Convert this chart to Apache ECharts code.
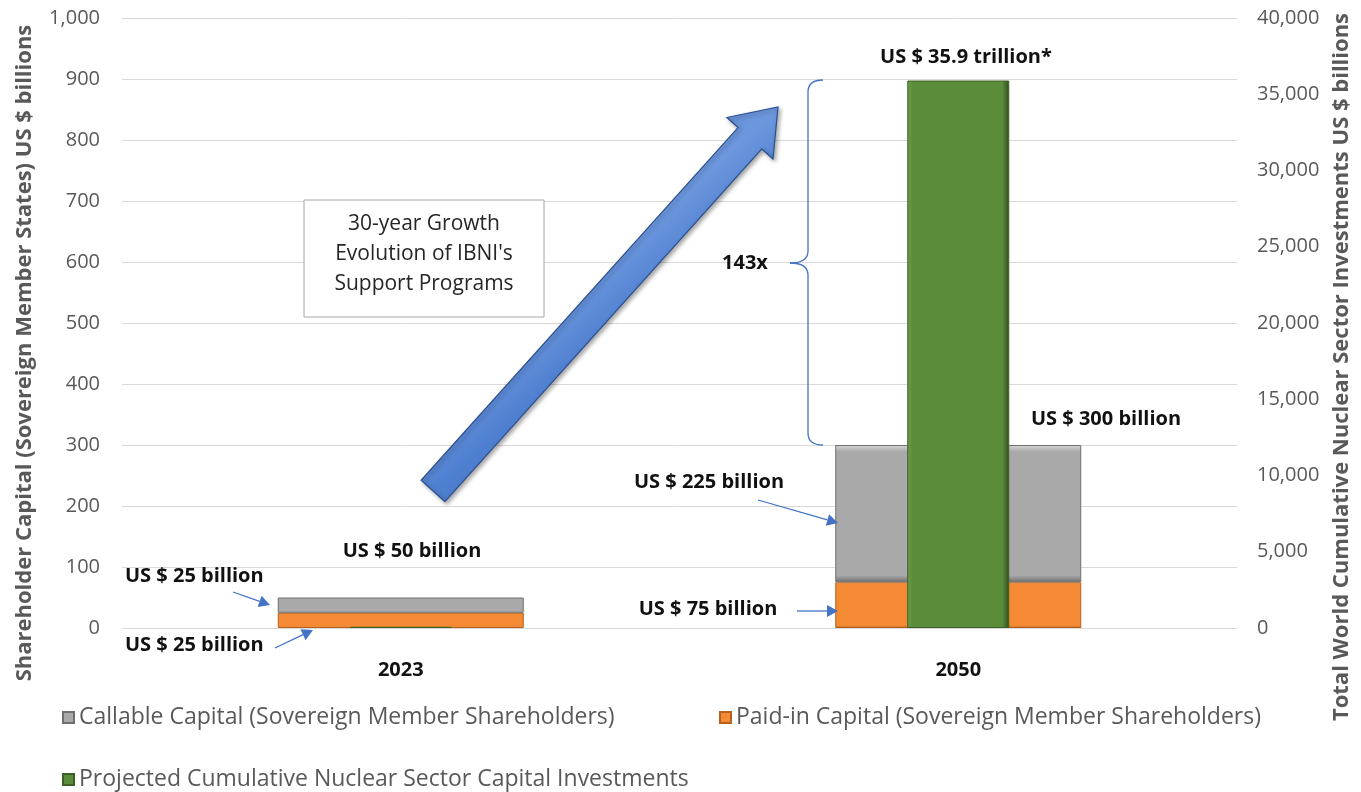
<!DOCTYPE html>
<html><head><meta charset="utf-8">
<script src="https://cdn.jsdelivr.net/npm/echarts@6/dist/echarts.min.js"></script>
<style>html,body{margin:0;padding:0;background:#fff}#c{width:1361px;height:792px}</style>
</head><body><div id="c"></div>
<script>
const categories = ['2023', '2050'];
const paidIn = [25, 75];
const callable = [25, 225];
const projected = [80, 35900];
const leftTicks = {min: 0, max: 1000, interval: 100};
const rightTicks = {min: 0, max: 40000, interval: 5000};
const names = ['Callable Capital (Sovereign Member Shareholders)', 'Paid-in Capital (Sovereign Member Shareholders)', 'Projected Cumulative Nuclear Sector Capital Investments'];
const leftTitle = 'Shareholder Capital (Sovereign Member States) US $ billions';
const rightTitle = 'Total World Cumulative Nuclear Sector Investments US $ billions';

const FONT = '"Open Sans", "Noto Sans", sans-serif';
const chart = echarts.init(document.getElementById('c'));

function hgrad(c1, light, dark) {
  return new echarts.graphic.LinearGradient(0, 0, 1, 0, [
    {offset: 0, color: light}, {offset: 0.05, color: c1}, {offset: 0.93, color: c1}, {offset: 1, color: dark}
  ]);
}
function vgrad(c1, light, dark) {
  return new echarts.graphic.LinearGradient(0, 0, 0, 1, [
    {offset: 0, color: light}, {offset: 0.05, color: c1}, {offset: 0.95, color: c1}, {offset: 1, color: dark}
  ]);
}

const blue = '#4472c4';
function arrow(x1, y1, x2, y2) {
  const dx = x2 - x1, dy = y2 - y1, L = Math.hypot(dx, dy);
  const ux = dx / L, uy = dy / L, px = -uy, py = ux;
  const hl = 11, hw = 6;
  const bx = x2 - ux * hl, by = y2 - uy * hl;
  return [
    {type: 'line', shape: {x1, y1, x2: bx, y2: by}, style: {stroke: blue, lineWidth: 1.3}, z: 100},
    {type: 'polygon', shape: {points: [[x2, y2], [bx + px * hw, by + py * hw], [bx - px * hw, by - py * hw]]}, style: {fill: blue}, z: 100}
  ];
}

function bigArrow() {
  const A = [433, 491], T = [778, 107];
  const dx = T[0] - A[0], dy = T[1] - A[1], L = Math.hypot(dx, dy);
  const d = [dx / L, dy / L], p = [-d[1], d[0]];
  const hl = 42, sw = 16, hw = 31;
  const B = [T[0] - d[0] * hl, T[1] - d[1] * hl];
  const pts = [
    [A[0] + p[0] * sw, A[1] + p[1] * sw],
    [B[0] + p[0] * sw, B[1] + p[1] * sw],
    [B[0] + p[0] * hw, B[1] + p[1] * hw],
    T,
    [B[0] - p[0] * hw, B[1] - p[1] * hw],
    [B[0] - p[0] * sw, B[1] - p[1] * sw],
    [A[0] - p[0] * sw, A[1] - p[1] * sw]
  ];
  return {type: 'polygon', shape: {points: pts}, z: 90,
    style: {
      fill: new echarts.graphic.LinearGradient(0, 0, 1, 1, [
        {offset: 0, color: '#3a62ad'}, {offset: 0.45, color: '#6d98de'}, {offset: 0.55, color: '#4f7fd0'}, {offset: 1, color: '#2f569c'}
      ]),
      stroke: '#2c4f8f', lineWidth: 1.2,
      shadowBlur: 4, shadowColor: 'rgba(0,0,0,0.35)', shadowOffsetX: 2, shadowOffsetY: 2
    }};
}

function txt(x, y, s, align) {
  return {type: 'text', x, y, z: 100, style: {text: s, fill: '#111', font: 'bold 20px ' + FONT, align: align || 'center', verticalAlign: 'middle'}};
}
function vtitle(x, y, s) {
  return {type: 'text', x, y, rotation: Math.PI / 2, z: 100,
    style: {text: s, fill: '#595959', font: 'bold 22px ' + FONT, align: 'center', verticalAlign: 'middle'}};
}
function seg(x1, y1, x2, y2) {
  return {type: 'line', z: 100, shape: {x1, y1, x2, y2}, style: {stroke: blue, lineWidth: 1.3}};
}
function curve(x1, y1, cx, cy, x2, y2) {
  return {type: 'bezierCurve', z: 100, shape: {x1, y1, x2, y2, cpx1: cx, cpy1: cy}, style: {stroke: blue, fill: null, lineWidth: 1.3}};
}
const bracket = [
  curve(823, 80, 808, 80, 808, 92),
  seg(808, 92, 808, 251),
  curve(808, 251, 808, 263, 790, 263),
  curve(790, 263, 808, 263, 808, 275),
  seg(808, 275, 808, 433),
  curve(808, 433, 808, 445, 823, 445)
];

const graphics = [
  bigArrow(),
  {type: 'rect', shape: {x: 304, y: 200, width: 240, height: 117}, style: {fill: '#fff', stroke: '#a6a6a6', lineWidth: 1}, z: 95},
  {type: 'text', x: 424, y: 254, z: 96, style: {text: '30-year Growth\nEvolution of IBNI\'s\nSupport Programs', fill: '#262626', font: '21px ' + FONT, align: 'center', verticalAlign: 'middle', lineHeight: 30}},
  ...bracket,
  txt(745, 263, '143x'),
  txt(966, 57, 'US $ 35.9 trillion*'),
  txt(1106, 419, 'US $ 300 billion'),
  txt(709, 482, 'US $ 225 billion'),
  txt(708, 609, 'US $ 75 billion'),
  txt(412, 551, 'US $ 50 billion'),
  txt(125, 576, 'US $ 25 billion', 'left'),
  txt(125, 645, 'US $ 25 billion', 'left'),
  ...arrow(758, 500, 838, 523),
  ...arrow(797, 611, 838, 611),
  ...arrow(233, 592, 270, 605),
  ...arrow(275, 648, 313, 630),
  vtitle(25, 353, leftTitle),
  vtitle(1342, 367, rightTitle)
];

const legendCommon = {orient: 'horizontal', itemWidth: 11, itemHeight: 11, icon: 'rect', itemGap: 4,
  textStyle: {color: '#595959', fontSize: 23, fontFamily: FONT}};

chart.setOption({
  animation: false,
  backgroundColor: '#fff',
  grid: {left: 122, right: 124, top: 18, bottom: 164, containLabel: false},
  legend: [
    Object.assign({left: 57, top: 701, data: [names[0]]}, legendCommon),
    Object.assign({left: 714, top: 701, data: [names[1]]}, legendCommon),
    Object.assign({left: 57, top: 763, data: [names[2]]}, legendCommon)
  ],
  xAxis: [
    {type: 'category', data: categories, axisLine: {show: false}, axisTick: {show: false},
      axisLabel: {color: '#111', fontWeight: 'bold', fontSize: 20, fontFamily: FONT, margin: 32}},
    {type: 'category', data: categories, show: false}
  ],
  yAxis: [
    {type: 'value', min: leftTicks.min, max: leftTicks.max, interval: leftTicks.interval, position: 'left',
      axisLabel: {color: '#595959', fontSize: 20, fontFamily: FONT, margin: 22,
        formatter: v => v.toLocaleString('en-US')},
      axisLine: {show: false}, axisTick: {show: false},
      splitLine: {lineStyle: {color: '#d9d9d9', width: 1}}},
    {type: 'value', min: rightTicks.min, max: rightTicks.max, interval: rightTicks.interval, position: 'right',
      axisLabel: {color: '#595959', fontSize: 20, fontFamily: FONT, margin: 20,
        formatter: v => v.toLocaleString('en-US')},
      axisLine: {show: false}, axisTick: {show: false}, splitLine: {show: false}}
  ],
  series: [
    {name: names[1], type: 'bar', stack: 'cap', xAxisIndex: 0, yAxisIndex: 0, barWidth: 246, data: paidIn,
      itemStyle: {color: vgrad('#f58a35', '#f9b27a', '#a85a1c'), borderColor: '#b5611f', borderWidth: 1}},
    {name: names[0], type: 'bar', stack: 'cap', xAxisIndex: 0, yAxisIndex: 0, barWidth: 246, data: callable,
      itemStyle: {color: vgrad('#a9a9a9', '#d6d6d6', '#6f6f6f'), borderColor: '#6f6f6f', borderWidth: 1}},
    {name: names[2], type: 'bar', xAxisIndex: 1, yAxisIndex: 1, barWidth: 102, data: projected, z: 5,
      itemStyle: {color: hgrad('#5b8c3a', '#6f9f4a', '#2f4d1d'), borderColor: '#3d6125', borderWidth: 1}}
  ],
  graphic: graphics
});
</script></body></html>
